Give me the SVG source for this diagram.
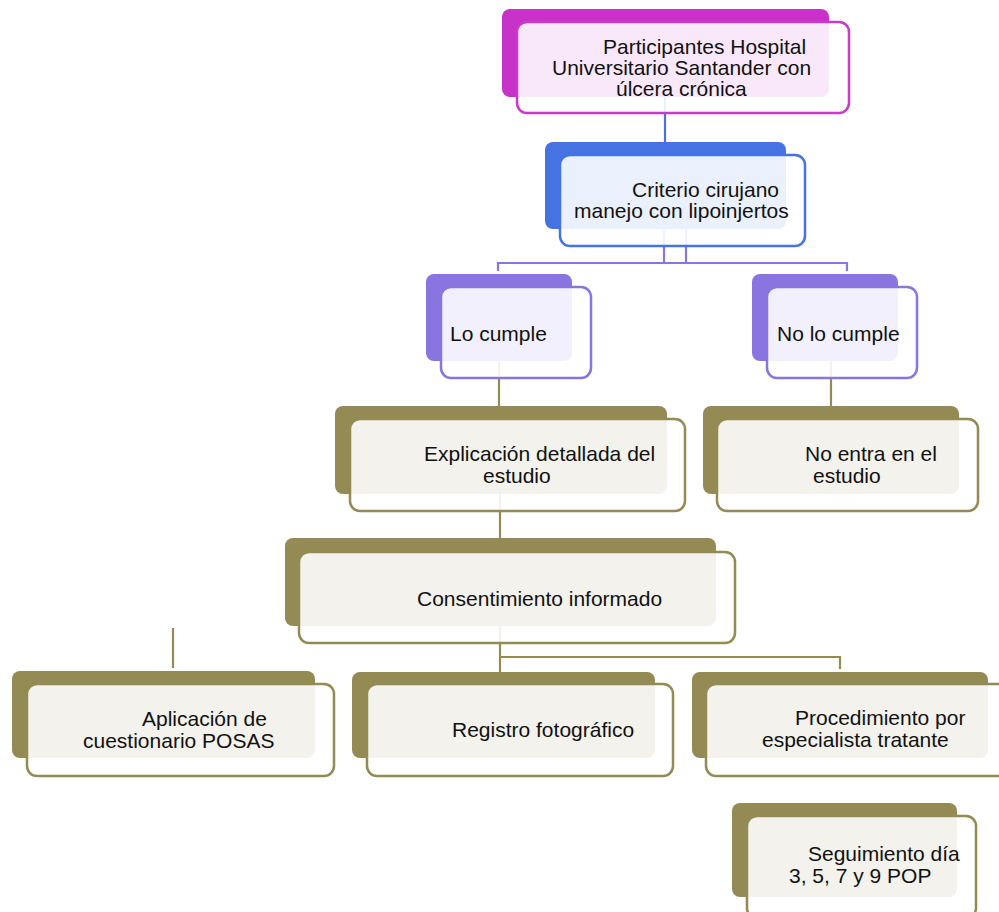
<svg xmlns="http://www.w3.org/2000/svg" width="999" height="912" viewBox="0 0 999 912">
<style>
text{font-family:"Liberation Sans",Arial,sans-serif;font-size:21px;fill:#111}
.bk{stroke:none}
.fr{fill:#fff;fill-opacity:0.89;stroke-width:2.5}
.m .bk{fill:#C932C9}.m .fr{stroke:#C93ACB}
.b .bk{fill:#4573E2}.b .fr{stroke:#4573E2}
.p .bk{fill:#8A74E0}.p .fr{stroke:#8A74E0}
.o .bk{fill:#948A54}.o .fr{stroke:#948A54}
.c{fill:none;stroke-width:2.2}
</style>
<rect width="999" height="912" fill="#fff"/>
<g id="connectors">
<path class="c" stroke="#4573E2" d="M665,97 V142"/>
<path class="c" stroke="#8A74E0" d="M664,229 V263 M686,229 V263 M498,271 V263 H847 V271"/>
<path class="c" stroke="#948A54" d="M499,361 V406 M831,361 V406 M500,494 V538 M500,626 V672 M500,657 H840 V669 M173,628 V668"/>
</g>
<g id="n1" class="m">
<rect class="bk" x="502" y="9" width="327" height="88" rx="8"/>
<rect class="fr" x="517" y="22" width="332" height="91" rx="10"/>
<text x="603" y="54">Participantes Hospital</text>
<text x="552" y="75">Universitario Santander con</text>
<text x="616" y="96">úlcera crónica</text>
</g>
<g id="n2" class="b">
<rect class="bk" x="545" y="142" width="241" height="87" rx="8"/>
<rect class="fr" x="560" y="155" width="245" height="91" rx="10"/>
<text x="632" y="197">Criterio cirujano</text>
<text x="574" y="218">manejo con lipoinjertos</text>
</g>
<g id="n3" class="p">
<rect class="bk" x="426" y="274" width="146" height="87" rx="8"/>
<rect class="fr" x="441" y="287" width="150" height="91" rx="10"/>
<text x="450" y="341">Lo cumple</text>
</g>
<g id="n4" class="p">
<rect class="bk" x="752" y="274" width="146" height="87" rx="8"/>
<rect class="fr" x="767" y="287" width="150" height="91" rx="10"/>
<text x="777" y="341">No lo cumple</text>
</g>
<g id="n5" class="o">
<rect class="bk" x="335" y="406" width="332" height="88" rx="8"/>
<rect class="fr" x="350" y="419" width="335" height="92" rx="10"/>
<text x="424" y="461">Explicación detallada del</text>
<text x="483" y="483">estudio</text>
</g>
<g id="n6" class="o">
<rect class="bk" x="703" y="406" width="256" height="88" rx="8"/>
<rect class="fr" x="717" y="419" width="261" height="92" rx="10"/>
<text x="805" y="461">No entra en el</text>
<text x="813" y="483">estudio</text>
</g>
<g id="n7" class="o">
<rect class="bk" x="285" y="538" width="431" height="88" rx="8"/>
<rect class="fr" x="299" y="552" width="436" height="91" rx="10"/>
<text x="417" y="606">Consentimiento informado</text>
</g>
<g id="n8" class="o">
<rect class="bk" x="12" y="671" width="303" height="87" rx="8"/>
<rect class="fr" x="27" y="684" width="307" height="92" rx="10"/>
<text x="142" y="726">Aplicación de</text>
<text x="83" y="748">cuestionario POSAS</text>
</g>
<g id="n9" class="o">
<rect class="bk" x="352" y="672" width="303" height="86" rx="8"/>
<rect class="fr" x="367" y="684" width="306" height="92" rx="10"/>
<text x="452" y="737">Registro fotográfico</text>
</g>
<g id="n10" class="o">
<rect class="bk" x="692" y="672" width="296" height="86" rx="8"/>
<rect class="fr" x="706" y="684" width="302" height="92" rx="10"/>
<text x="795" y="725">Procedimiento por</text>
<text x="762" y="747">especialista tratante</text>
</g>
<g id="n11" class="o">
<rect class="bk" x="732" y="803" width="225" height="94" rx="8"/>
<rect class="fr" x="747" y="816" width="229" height="102" rx="10"/>
<text x="808" y="861">Seguimiento día</text>
<text x="789" y="883">3, 5, 7 y 9 POP</text>
</g>
</svg>
